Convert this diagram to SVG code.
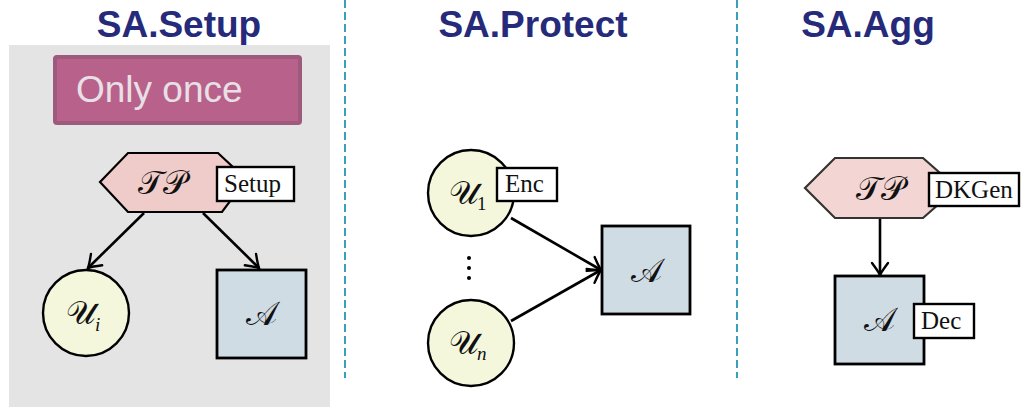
<svg xmlns="http://www.w3.org/2000/svg" width="1023" height="407" viewBox="0 0 1023 407">
  <defs>
    <marker id="arrow" markerWidth="28" markerHeight="28" refX="0" refY="0" viewBox="-14 -14 28 28" markerUnits="userSpaceOnUse" orient="auto">
      <path d="M-12,-8 Q-4,-2 0,0 Q-4,2 -12,8" fill="none" stroke="#000" stroke-width="2.4" stroke-linecap="round"/>
    </marker>
    <style>
      .title { font-family: "Liberation Sans", Arial, sans-serif; font-weight: bold; font-size: 37px; fill: #262a7a; text-anchor: middle; }
      .divider { stroke: #3a9fb8; stroke-width: 2; stroke-dasharray: 8 4; fill: none; }
      .hex { stroke-width: 2.2; stroke-linejoin: miter; }
      .user { fill: #f5f7dc; stroke: #000; stroke-width: 2.4; }
      .agg { fill: #cfdce4; stroke: #000; stroke-width: 2.8; }
      .tag { fill: #fff; stroke: #000; stroke-width: 2.4; }
      .tagtext { font-family: "Liberation Serif", "Times New Roman", serif; font-size: 25px; fill: #111; }
      .math { font-family: "DejaVu Serif", "Liberation Serif", serif; font-size: 33px; fill: #111; text-anchor: middle; }
      .sub { font-family: "Liberation Serif", "Times New Roman", serif; font-size: 19px; fill: #111; }
      .edge { stroke: #000; stroke-width: 2.6; fill: none; marker-end: url(#arrow); }
    </style>
  </defs>

  <rect width="1023" height="407" fill="#fff"/>

  <!-- phase titles -->
  <text class="title" x="179" y="37">SA.Setup</text>
  <text class="title" x="533" y="37">SA.Protect</text>
  <text class="title" x="868" y="37">SA.Agg</text>

  <!-- phase dividers -->
  <line class="divider" x1="345" y1="0" x2="345" y2="378"/>
  <line class="divider" x1="737" y1="0" x2="737" y2="378"/>

  <!-- setup panel -->
  <rect x="9" y="45" width="321" height="362" fill="#e4e4e4"/>
  <g id="only-once">
    <rect x="55" y="57" width="245" height="66" rx="2" fill="#b8628b" stroke="#9e5a7d" stroke-width="4"/>
    <text x="76" y="102" font-family="Liberation Sans, Arial, sans-serif" font-size="37" fill="#e8e0e6">Only once</text>
  </g>

  <!-- connectors -->
  <g id="connectors">
    <line class="edge" x1="144" y1="213" x2="88" y2="268"/>
    <line class="edge" x1="203" y1="213" x2="259" y2="268"/>
    <line class="edge" x1="511" y1="218" x2="601" y2="270"/>
    <line class="edge" x1="511" y1="321" x2="601" y2="270"/>
    <line class="edge" x1="880" y1="218" x2="880" y2="275"/>
  </g>

  <!-- SA.Setup nodes -->
  <g id="setup-tp">
    <polygon class="hex" points="100,182 128,153 218,153 234,168 234,196 222,212 128,212" fill="#efcbca" stroke="#000"/>
    <text class="math" x="162" y="194">𝒯𝒫</text>
    <rect class="tag" x="217" y="167" width="77" height="34"/>
    <text class="tagtext" x="224" y="192">Setup</text>
  </g>
  <g id="setup-ui">
    <circle class="user" cx="86" cy="313" r="43"/>
    <text class="math" x="81" y="324">𝒰</text>
    <text class="sub" x="95" y="331" font-style="italic">i</text>
  </g>
  <g id="setup-a">
    <rect class="agg" x="217" y="270" width="89" height="88"/>
    <text class="math" x="261" y="325">𝒜</text>
  </g>

  <!-- SA.Protect nodes -->
  <g id="protect-u1">
    <circle class="user" cx="471" cy="193" r="43"/>
    <text class="math" x="464" y="204">𝒰</text>
    <text class="sub" x="477" y="210">1</text>
    <rect class="tag" x="497" y="168" width="60" height="33"/>
    <text class="tagtext" x="505" y="192">Enc</text>
  </g>
  <g id="protect-dots" fill="#000">
    <circle cx="469" cy="258" r="2"/>
    <circle cx="469" cy="268" r="2"/>
    <circle cx="469" cy="278" r="2"/>
  </g>
  <g id="protect-un">
    <circle class="user" cx="471" cy="343" r="43"/>
    <text class="math" x="464" y="354">𝒰</text>
    <text class="sub" x="477" y="360" font-style="italic">n</text>
  </g>
  <g id="protect-a">
    <rect class="agg" x="602" y="226" width="88" height="88"/>
    <text class="math" x="646" y="282">𝒜</text>
  </g>

  <!-- SA.Agg nodes -->
  <g id="agg-tp">
    <polygon class="hex" points="805,188 835,158 923,158 940,173 940,203 923,218 835,218" fill="#f3d6d3" stroke="#333"/>
    <text class="math" x="880" y="200">𝒯𝒫</text>
    <rect class="tag" x="929" y="173" width="90" height="33"/>
    <text class="tagtext" x="935" y="198">DKGen</text>
  </g>
  <g id="agg-a">
    <rect class="agg" x="835" y="276" width="89" height="88"/>
    <text class="math" x="879" y="331">𝒜</text>
    <rect class="tag" x="914" y="304" width="60" height="34"/>
    <text class="tagtext" x="921" y="329">Dec</text>
  </g>
</svg>
